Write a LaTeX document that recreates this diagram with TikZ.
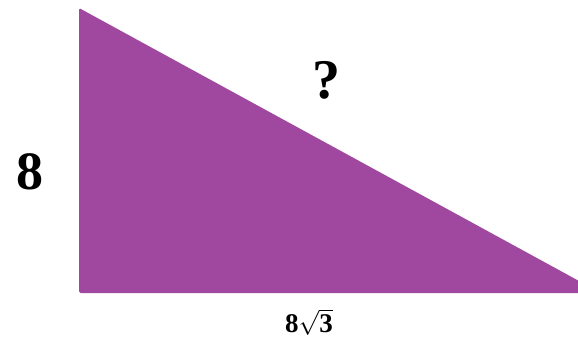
\documentclass[tikz,border=0pt]{standalone}
\usepackage{fontspec}
\setmainfont{Liberation Serif}
\usepackage{tikz}
\usetikzlibrary{positioning}
\definecolor{cviolet}{RGB}{160,72,160}

\begin{document}
\begin{tikzpicture}[
    x=1pt, y=-1pt,
    lbl/.style={inner sep=0pt, font=\bfseries},
]
\useasboundingbox (0,0) rectangle (578,347);
\clip (0,0) rectangle (578,347);

\coordinate (top) at (79,8);
\coordinate (corner) at (79,293);
\coordinate (tip) at (601,293);
\fill[cviolet, rounded corners=1.5pt] (top) -- (corner) -- (tip) -- cycle;

\node[lbl, font=\bfseries\fontsize{54}{54}\selectfont] (side) at (30,172) {8};
\node[lbl, font=\bfseries\fontsize{56}{56}\selectfont] (hyp) at (326,80) {?};
\node[lbl, font=\bfseries\fontsize{27}{27}\selectfont] (base) at (309,322) {8$\sqrt{\mathbf{3}}$};
\end{tikzpicture}
\end{document}
